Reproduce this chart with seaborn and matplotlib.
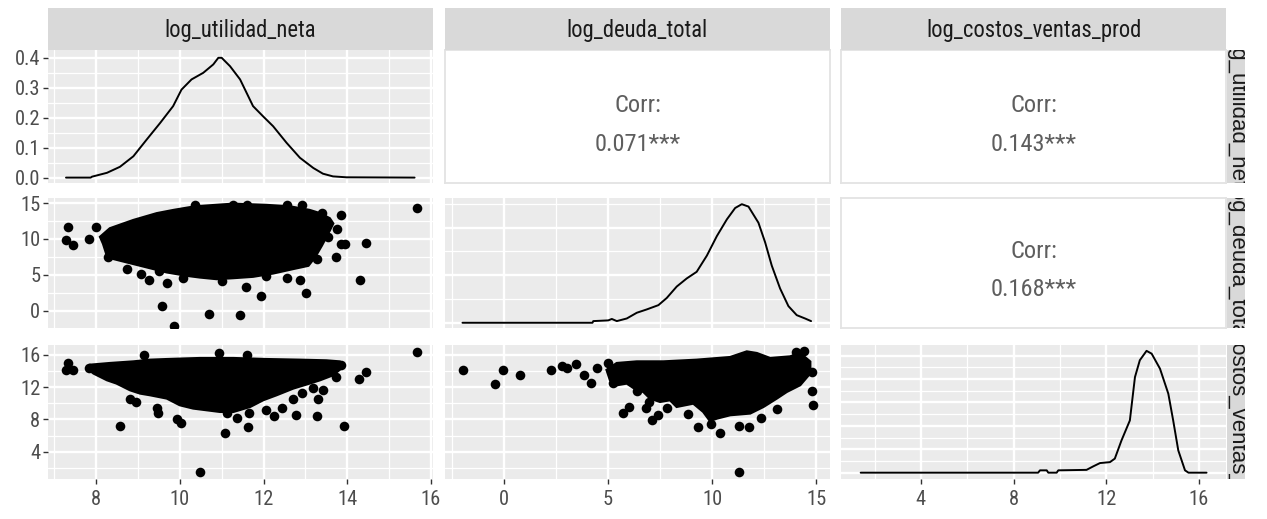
import matplotlib
matplotlib.use("Agg")
import matplotlib.pyplot as plt
from matplotlib.ticker import MultipleLocator
from matplotlib import font_manager
import seaborn as sns

# ---------------- data ----------------
variables = ["log_utilidad_neta", "log_deuda_total", "log_costos_ventas_prod"]
corr_values = {(0, 1): "0.071***", (0, 2): "0.143***", (1, 2): "0.168***"}

# diagonal densities
util_dens_x = [7.28, 7.87, 7.90, 8.26, 8.57, 8.89, 9.21, 9.53, 9.84, 10.04, 10.28, 10.56, 10.80,
               10.92, 11.00, 11.20, 11.44, 11.75, 11.99, 12.23, 12.55, 12.87, 13.19, 13.42, 13.66,
               13.98, 15.61]
util_dens_y = [0.0, 0.0, 0.003, 0.016, 0.036, 0.071, 0.127, 0.182, 0.238, 0.293, 0.327, 0.349, 0.377,
               0.399, 0.399, 0.371, 0.327, 0.238, 0.204, 0.171, 0.116, 0.066, 0.032, 0.013, 0.004,
               0.001, 0.0]
deuda_dens_x = [-2.0, 4.25, 4.29, 5.01, 5.18, 5.42, 5.90, 6.38, 6.86, 7.42, 7.82, 8.30, 8.78, 9.26,
                9.75, 10.23, 10.71, 11.11, 11.43, 11.75, 12.23, 12.55, 12.87, 13.27, 13.67, 14.07,
                14.47, 14.76]
deuda_dens_y = [0.0, 0.0, 0.0035, 0.005, 0.008, 0.0035, 0.009, 0.021, 0.028, 0.037, 0.052, 0.076,
                0.093, 0.107, 0.141, 0.182, 0.217, 0.241, 0.249, 0.244, 0.210, 0.169, 0.120, 0.072,
                0.035, 0.016, 0.009, 0.0035]
costos_dens_x = [1.4, 9.06, 9.14, 9.43, 9.50, 9.86, 9.93, 11.15, 11.44, 11.73, 12.16, 12.37, 12.66,
                 13.02, 13.24, 13.45, 13.74, 13.96, 14.32, 14.68, 14.89, 15.11, 15.40, 15.55, 16.33]
costos_dens_y = [0.0, 0.0, 0.01, 0.01, 0.0, 0.0, 0.01, 0.012, 0.027, 0.041, 0.045, 0.06, 0.138,
                 0.223, 0.408, 0.48, 0.52, 0.508, 0.444, 0.337, 0.223, 0.095, 0.01, 0.0, 0.0]

# scatter: utilidad (x) vs deuda (y) -- sparse points
ud_x = [7.28, 7.32, 7.44, 7.82, 8.0, 8.29, 8.73, 9.07, 9.26, 9.50, 9.57, 9.69, 9.86, 10.07, 10.36,
        10.70, 11.0, 11.28, 11.45, 11.58, 11.6, 11.95, 12.07, 12.55, 12.55, 12.87, 12.93, 13.01,
        13.27, 13.39, 13.54, 13.73, 13.76, 13.84, 13.84, 13.94, 14.30, 14.46, 15.67]
ud_y = [9.8, 11.7, 9.2, 10.0, 11.7, 7.5, 5.75, 5.15, 4.3, 5.5, 0.7, 3.8, -2.1, 4.5, 14.7,
        -0.4, 4.1, 14.7, -0.6, 3.3, 14.7, 2.0, 4.9, 14.7, 4.6, 4.3, 14.7, 2.5,
        7.25, 13.65, 10.3, 7.5, 11.45, 13.3, 9.25, 9.25, 4.3, 9.5, 14.26]
# dense, fully over-plotted cloud (outline of the solid black area)
ud_cloud_x = [8.33, 8.89, 9.45, 9.85, 10.36, 11.28, 12.07, 12.63, 13.1, 13.35, 13.58, 13.66, 13.54,
              13.39, 13.23, 13.07, 12.71, 12.23, 11.75, 11.28, 10.88, 10.48, 10.16, 9.69, 9.21,
              8.73, 8.41, 8.26, 8.17, 8.1]
ud_cloud_y = [11.45, 12.6, 13.55, 14.0, 14.5, 14.87, 14.7, 14.5, 14.0, 13.55, 12.85, 12.15, 10.75,
              9.1, 7.5, 6.3, 5.85, 5.23, 4.77, 4.58, 4.44, 4.67, 4.91, 5.38, 6.08,
              6.78, 7.25, 7.71, 9.35, 10.28]

# scatter: utilidad (x) vs costos (y)
uc_x = [7.28, 7.32, 7.44, 7.82, 8.57, 8.81, 8.95, 9.15, 9.45, 9.49, 9.94, 10.04, 10.48, 10.94,
        11.08, 11.12, 11.37, 11.6, 11.64, 11.66, 12.07, 12.25, 12.43, 12.71, 12.77, 12.91, 13.19,
        13.27, 13.3, 13.42, 13.73, 13.86, 13.92, 14.28, 14.46, 15.67]
uc_y = [14.14, 14.97, 14.14, 14.43, 7.19, 10.5, 10.2, 16.0, 9.39, 8.84, 8.02, 7.52, 1.52, 16.2,
        6.36, 8.76, 8.14, 16.0, 7.1, 8.76, 9.18, 8.44, 9.39, 10.6, 8.56, 11.25, 11.86,
        8.44, 10.6, 11.66, 13.31, 14.76, 7.19, 12.98, 13.93, 16.41]
uc_cloud_x = [7.86, 8.33, 8.89, 9.29, 9.69, 10.48, 11.28, 12.07, 12.87, 13.5, 13.82, 13.9, 13.66,
              13.35, 13.1, 12.71, 12.31, 11.99, 11.68, 11.28, 10.96, 10.64, 10.32, 10.0, 9.69,
              9.29, 9.05, 8.81, 8.49, 8.26, 7.94, 7.82]
uc_cloud_y = [14.76, 14.97, 15.17, 15.38, 15.46, 15.59, 15.59, 15.46, 15.38, 15.3, 15.17, 14.55,
              13.52, 12.9, 12.49, 11.87, 11.04, 10.42, 9.59, 8.97, 8.97, 9.18, 9.39, 9.8, 10.63,
              11.04, 11.25, 11.66, 12.49, 12.9, 13.73, 14.22]

# scatter: deuda (x) vs costos (y)
dc_x = [-1.99, -0.43, -0.06, 0.77, 2.25, 2.77, 3.04, 3.45, 3.85, 4.17, 4.46, 5.01, 5.23, 5.74,
        6.02, 6.41, 6.83, 6.99, 7.1, 7.42, 7.85, 8.86, 9.31, 9.94, 10.4, 11.31, 11.31, 11.78,
        12.36, 13.14, 14.02, 14.44, 14.82, 14.84, 14.79]
dc_y = [14.14, 12.36, 14.14, 13.52, 14.14, 14.64, 14.35, 14.88, 13.52, 12.56, 14.35, 14.97, 12.49,
        8.84, 9.51, 11.57, 9.39, 10.21, 7.94, 8.56, 9.39, 8.68, 7.1, 7.44, 6.36, 7.19, 1.52, 7.02,
        8.14, 9.3, 16.33, 16.5, 11.57, 9.8, 13.93]
dc_cloud_x = [5.42, 6.38, 7.66, 9.26, 10.87, 11.67, 12.15, 12.79, 13.75, 14.23, 14.71, 14.71, 14.23,
              13.59, 13.11, 12.47, 11.83, 10.87, 10.23, 9.9, 9.58, 9.1, 8.3, 7.98, 7.5, 7.02,
              6.7, 6.38, 5.9, 5.42, 5.1, 4.94]
dc_cloud_y = [14.97, 15.17, 15.17, 15.38, 15.71, 16.41, 16.21, 15.59, 15.79, 16.21, 15.17, 13.73,
              12.28, 11.45, 10.63, 9.59, 8.77, 8.56, 8.14, 7.85, 8.97, 10.0, 9.59, 10.42, 10.21,
              10.63, 11.45, 11.66, 12.49, 12.28, 12.9, 14.14]

# axis tick labels
util_ticks = [8, 10, 12, 14, 16]
deuda_ticks = [0, 5, 10, 15]
costos_ticks = [4, 8, 12, 16]
dens_ticks = [0.0, 0.1, 0.2, 0.3, 0.4]

# ---------------- style ----------------
sns.set_theme(style="darkgrid")
names = {f.name for f in font_manager.fontManager.ttflist}
FONT = "Liberation Sans"
scale = 0.9
for cand in ["Liberation Sans Narrow", "Arial Narrow", "Roboto Condensed"]:
    if cand in names:
        FONT, scale = cand, 1.0
        break
plt.rcParams["font.family"] = [FONT, "DejaVu Sans"]

STRIP_FS = 16.3 * scale
TICK_FS = 14.8 * scale
CORR_FS = 17.6 * scale

PANEL_BG = "#EBEBEB"
STRIP_BG = "#D9D9D9"
TICK_TXT = "#4D4D4D"
STRIP_TXT = "#1A1A1A"
CORR_TXT = "#5E5E5E"

W, H = 1267, 519
fig = plt.figure(figsize=(W / 100, H / 100), dpi=100)
fig.patch.set_facecolor("white")


def add_ax(x0, y0, x1, y1):
    return fig.add_axes([x0 / W, 1 - y1 / H, (x1 - x0) / W, (y1 - y0) / H])


col_px = [(48, 433), (445, 830), (841, 1226)]
row_px = [(50, 183), (198, 328), (345, 479)]

col_lims = [(6.85, 16.05), (-2.84, 15.67), (0.55, 17.17)]
row_lims = [(-0.018, 0.425), (-2.4, 15.7), (0.61, 17.24)]
diag_ylims = [(-0.018, 0.425), (-0.011, 0.262), (-0.027, 0.545)]
col_major = [2, 5, 4]
row_major = [0.1, 5, 4]
diag_major = [0.1, 0.1, 0.1]

dens = [(util_dens_x, util_dens_y), (deuda_dens_x, deuda_dens_y), (costos_dens_x, costos_dens_y)]
scat = {(1, 0): (ud_x, ud_y, ud_cloud_x, ud_cloud_y),
        (2, 0): (uc_x, uc_y, uc_cloud_x, uc_cloud_y),
        (2, 1): (dc_x, dc_y, dc_cloud_x, dc_cloud_y)}
x_tick_vals = [util_ticks, deuda_ticks, costos_ticks]
y_tick_vals = [dens_ticks, deuda_ticks, costos_ticks]

for i in range(3):
    for j in range(3):
        x0, x1 = col_px[j]
        y0, y1 = row_px[i]
        ax = add_ax(x0, y0, x1, y1)
        if i < j:
            ax.set_facecolor("white")
            ax.grid(False)
            ax.set_xticks([])
            ax.set_yticks([])
            for sp in ax.spines.values():
                sp.set_visible(True)
                sp.set_color("#E3E3E3")
                sp.set_linewidth(1.3)
            ax.text(0.5, 0.536, "Corr:", transform=ax.transAxes, ha="center", va="baseline",
                    fontsize=CORR_FS, color=CORR_TXT)
            ax.text(0.5, 0.243, corr_values[(i, j)], transform=ax.transAxes, ha="center",
                    va="baseline", fontsize=CORR_FS, color=CORR_TXT)
            continue

        ax.set_facecolor(PANEL_BG)
        for sp in ax.spines.values():
            sp.set_visible(False)
        ax.set_xlim(*col_lims[j])
        ax.xaxis.set_major_locator(MultipleLocator(col_major[j]))
        ax.xaxis.set_minor_locator(MultipleLocator(col_major[j] / 2))
        if i == j:
            dx, dy = dens[i]
            sns.lineplot(x=dx, y=dy, ax=ax, color="black", linewidth=1.4, sort=False,
                         estimator=None)
            ax.set_ylim(*diag_ylims[i])
            ax.yaxis.set_major_locator(MultipleLocator(diag_major[i]))
            ax.yaxis.set_minor_locator(MultipleLocator(diag_major[i] / 2))
        else:
            px_, py_, cx, cy = scat[(i, j)]
            ax.fill(cx, cy, color="black", linewidth=2, edgecolor="black", zorder=3)
            sns.scatterplot(x=px_, y=py_, ax=ax, color="black", s=48, linewidth=0,
                            legend=False, zorder=4)
            ax.set_ylim(*row_lims[i])
            ax.yaxis.set_major_locator(MultipleLocator(row_major[i]))
            ax.yaxis.set_minor_locator(MultipleLocator(row_major[i] / 2))
        ax.set_xlim(*col_lims[j])
        ax.grid(which="major", color="white", linewidth=1.7)
        ax.grid(which="minor", color="white", linewidth=0.9)
        ax.set_axisbelow(True)
        ax.set_xlabel("")
        ax.set_ylabel("")
        ax.tick_params(which="minor", length=0)
        ax.tick_params(which="major", length=0, labelbottom=False, labelleft=False)
        if j == 0:
            ax.set_yticks(y_tick_vals[i])
            if i == 0:
                ax.set_yticklabels([f"{v:.1f}" for v in y_tick_vals[i]])
            else:
                ax.set_yticklabels([str(v) for v in y_tick_vals[i]])
            ax.tick_params(axis="y", which="major", left=True, labelleft=True, length=3.5,
                           width=1.0, color="#333333", pad=2.0, labelsize=TICK_FS,
                           labelcolor=TICK_TXT)
            ax.set_ylim(*(diag_ylims[i] if i == j else row_lims[i]))
        if i == 2:
            ax.set_xticks(x_tick_vals[j])
            ax.set_xticklabels([str(v) for v in x_tick_vals[j]])
            ax.tick_params(axis="x", which="major", bottom=True, labelbottom=True, length=3.5,
                           width=1.0, color="#333333", pad=4.5, labelsize=TICK_FS,
                           labelcolor=TICK_TXT)
            ax.set_xlim(*col_lims[j])

# top strips
for j in range(3):
    x0, x1 = col_px[j]
    s = add_ax(x0, 8, x1, 50)
    s.set_facecolor(STRIP_BG)
    s.grid(False)
    s.set_xticks([])
    s.set_yticks([])
    for sp in s.spines.values():
        sp.set_visible(False)
    s.text(0.5, 0.47, variables[j], transform=s.transAxes, ha="center", va="center",
           fontsize=STRIP_FS, color=STRIP_TXT)

# right strips (rotated, clipped to the strip like the reference)
for i in range(3):
    y0, y1 = row_px[i]
    s = add_ax(1227, y0, 1245, y1)
    s.set_facecolor(STRIP_BG)
    s.grid(False)
    s.set_xticks([])
    s.set_yticks([])
    for sp in s.spines.values():
        sp.set_visible(False)
    s.text(0.5, 0.5, variables[i], transform=s.transAxes, ha="center", va="center",
           rotation=-90, rotation_mode="anchor", fontsize=16, color=STRIP_TXT,
           family=["Liberation Sans", "DejaVu Sans"], clip_on=True)

fig.savefig("out.png", dpi=100, facecolor="white")
